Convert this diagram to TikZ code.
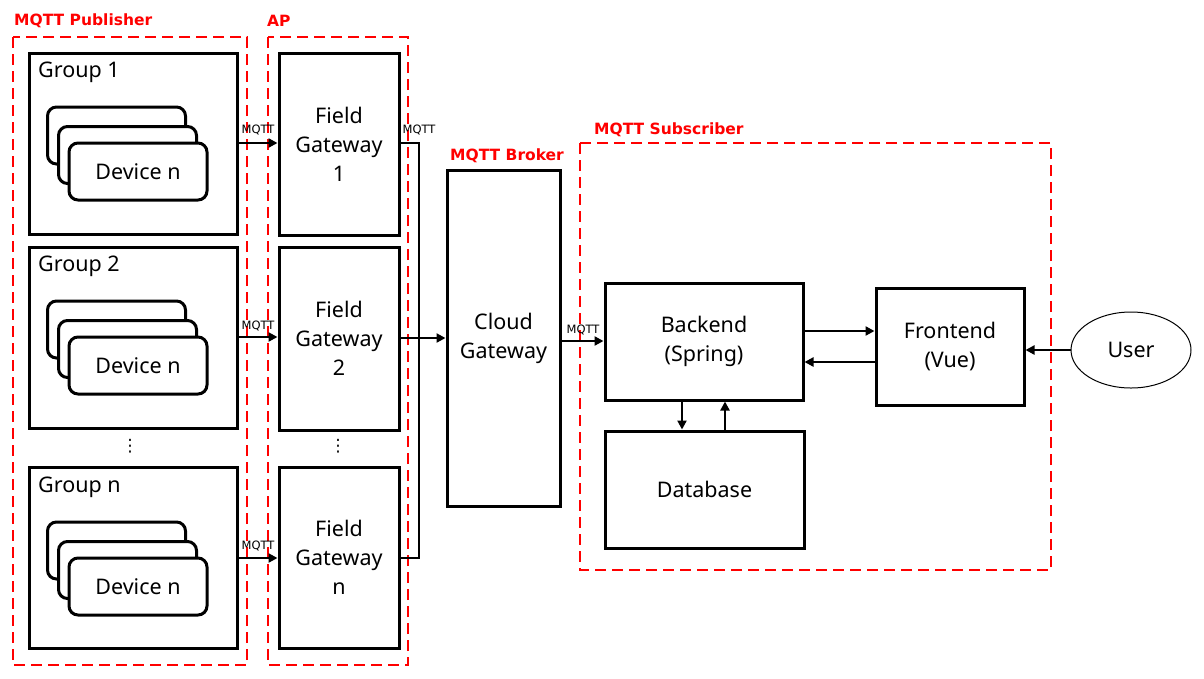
\documentclass[tikz,border=0pt]{standalone}
\usepackage{fontspec}
\setmainfont{Noto Sans}
\newfontfamily\lblfont{DejaVu Sans}
\newfontfamily\symfont{DejaVu Sans}
\usetikzlibrary{arrows.meta,shapes.geometric}
\begin{document}
\begin{tikzpicture}[x=1pt,y=-1pt,
  box/.style={draw=black,line width=3pt,fill=white,inner sep=0pt,align=center,font=\fontsize{21.5}{29}\selectfont},
  card/.style={draw=black,line width=3pt,fill=white,rounded corners=9pt,minimum width=138pt,minimum height=57pt,inner sep=0pt,font=\fontsize{21.5}{26}\selectfont},
  region/.style={draw=red,line width=2.6pt,dash pattern=on 11pt off 6pt},
  rlabel/.style={text=red,font=\lblfont\bfseries\fontsize{15.5}{18}\selectfont,anchor=west,inner sep=0pt},
  glabel/.style={font=\fontsize{21.5}{26}\selectfont,anchor=west,inner sep=0pt},
  mq/.style={font=\lblfont\fontsize{11.5}{13}\selectfont,inner sep=0pt},
  arr/.style={line width=2.4pt,-{Triangle[length=9pt,width=9pt]}},
  ln/.style={line width=2.4pt},
  vdots/.style={font=\symfont\fontsize{17}{20}\selectfont,inner sep=0pt}
]
\useasboundingbox (0,0) rectangle (1204,678);
\fill[white] (0,0) rectangle (1204,678);

% regions
\draw[region] (13,37) rectangle (247,665);
\draw[region] (268,37) rectangle (408,665);
\draw[region] (580,143) rectangle (1051,570);
\node[rlabel] (lpub) at (14,21) {MQTT Publisher};
\node[rlabel] (lap) at (267,21) {AP};
\node[rlabel] (lbr) at (450,156) {MQTT Broker};
\node[rlabel] (lsub) at (594,130) {MQTT Subscriber};

% groups
\node[box,minimum width=208pt,minimum height=181pt] (g1) at (133,143.5) {};
\node[box,minimum width=208pt,minimum height=181pt] (g2) at (133,337.5) {};
\node[box,minimum width=208pt,minimum height=181pt] (gn) at (133,557.5) {};
\node[glabel] (tg1) at (38,72) {Group 1};
\node[glabel] (tg2) at (38,266) {Group 2};
\node[glabel] (tgn) at (38,487) {Group n};

% device cards
\node[card] (d1a) at (116.5,135.5) {};
\node[card] (d1b) at (127.5,155) {};
\node[card] (d1c) at (138,171.5) {Device n};
\node[card] (d2a) at (116.5,329.5) {};
\node[card] (d2b) at (127.5,349) {};
\node[card] (d2c) at (138,365.5) {Device n};
\node[card] (dna) at (116.5,550.5) {};
\node[card] (dnb) at (127.5,570) {};
\node[card] (dnc) at (138,586.5) {Device n};

% field gateways
\node[box,minimum width=120pt,minimum height=182pt] (fg1) at (339,144) {Field\\Gateway\\1};
\node[box,minimum width=120pt,minimum height=183pt] (fg2) at (339,338.5) {Field\\Gateway\\2};
\node[box,minimum width=120pt,minimum height=181pt] (fgn) at (339,557.5) {Field\\Gateway\\n};

\node[vdots] (v1) at (130,446) {⋮};
\node[vdots] (v2) at (338,446) {⋮};

% cloud gateway
\node[box,minimum width=113pt,minimum height=336pt] (cg) at (503.5,338) {Cloud\\Gateway};

% subscriber side
\node[box,minimum width=198pt,minimum height=117pt] (be) at (704,341.5) {Backend\\(Spring)};
\node[box,minimum width=199pt,minimum height=117pt] (db) at (704.5,489.5) {Database};
\node[box,minimum width=148pt,minimum height=117pt] (fe) at (950,346.5) {Frontend\\(Vue)};
\node[draw=black,line width=1pt,ellipse,minimum width=120pt,minimum height=76pt,inner sep=0pt,font=\fontsize{21.5}{26}\selectfont] (us) at (1131,350) {User};

% group -> field gateway
\draw[arr] (g1.east |- 0,143) -- (fg1.west |- 0,143);
\draw[arr] (g2.east |- 0,337) -- (fg2.west |- 0,337);
\draw[arr] (gn.east |- 0,558) -- (fgn.west |- 0,558);
\node[mq] (m1) at (258,130) {MQTT};
\node[mq] (m2) at (258,326) {MQTT};
\node[mq] (m3) at (258,546) {MQTT};

% field gateways -> bus -> cloud
\coordinate (bt) at (419,143);
\coordinate (bb) at (419,558);
\draw[ln] (fg1.east |- bt) -- (bt) -- (bb) -- (fgn.east |- bb);
\draw[arr] (fg2.east |- 0,338) -- (cg.west |- 0,338);
\node[mq] (m4) at (419,130) {MQTT};

% cloud -> backend
\draw[arr] (cg.east |- 0,341) -- (be.west |- 0,341);
\node[mq] (m5) at (583,330) {MQTT};

% backend <-> database
\draw[arr] (682,0 |- be.south) -- (682,0 |- db.north);
\draw[arr] (725,0 |- db.north) -- (725,0 |- be.south);

% backend <-> frontend
\draw[arr] (be.east |- 0,331) -- (fe.west |- 0,331);
\draw[arr] (fe.west |- 0,362) -- (be.east |- 0,362);

% user -> frontend
\draw[arr] (us.west) -- (fe.east |- us.west);
\end{tikzpicture}
\end{document}
